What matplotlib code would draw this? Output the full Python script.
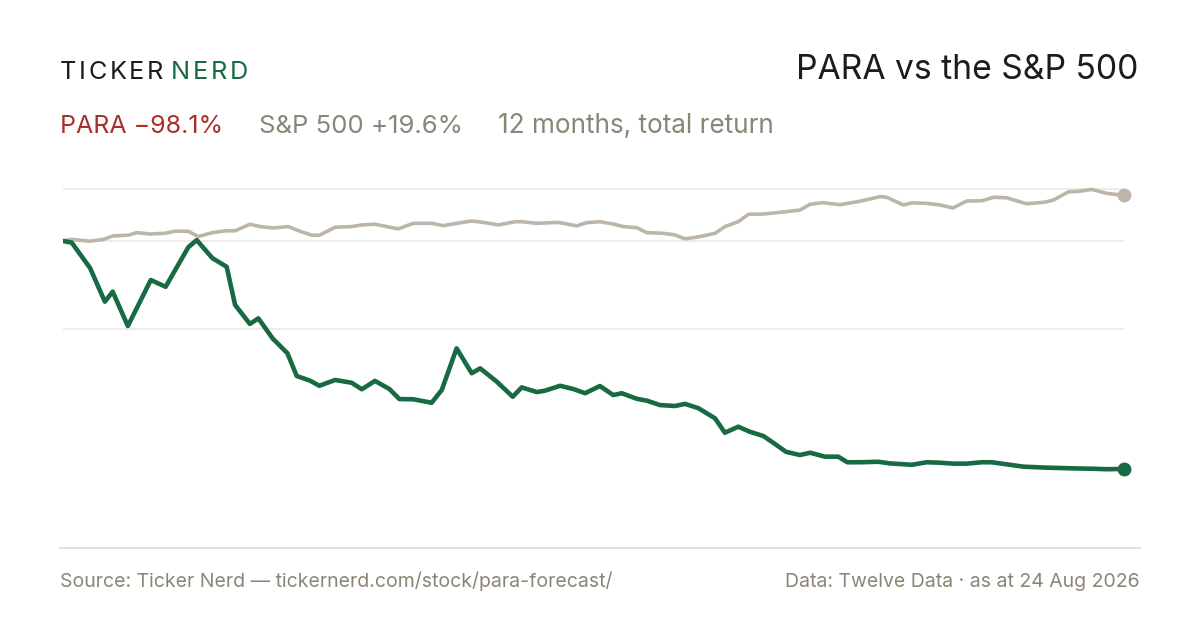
import matplotlib
matplotlib.use("Agg")
import matplotlib.pyplot as plt

# 12 months of total return, % (x = days since start)
para_days = [0, 3.0, 9.3, 14.4, 17.1, 22.3, 30.2, 35.3, 43.1, 46.0, 51.4, 56.3, 59.2, 64.3,
             67.2, 72.1, 77.2, 80.4, 85.0, 88.2, 93.6, 99.3, 102.8, 107.3, 112.3, 115.7,
             120.5, 126.8, 130.3, 135.4, 140.6, 143.5, 149.2, 154.7, 157.8, 163.0, 165.8,
             171.0, 175.6, 179.6, 184.7, 189.3, 192.2, 197.4, 200.8, 205.4, 210.5, 214.0,
             218.5, 224.3, 227.7, 232.3, 236.3, 240.9, 244.3, 248.7, 253.5, 257.0, 262.1,
             266.7, 269.8, 274.2, 280.5, 284.5, 292.0, 297.1, 301.7, 306.3, 310.9, 316.1,
             319.5, 324.6, 330.4, 337.8, 346.4, 354.4, 359.0, 365]
para_ret = [0, -0.7, -11.6, -26.1, -21.8, -36.6, -16.8, -19.7, -2.7, 0.4, -7.4, -11.1, -27.5,
            -35.7, -33.3, -41.9, -48.3, -58.1, -60.1, -62.3, -59.8, -61.0, -63.8, -60.2, -63.7,
            -68.0, -68.1, -69.6, -64.1, -46.2, -56.9, -54.8, -60.5, -67.0, -63.0, -65.0, -64.4,
            -62.3, -63.7, -65.5, -62.4, -66.3, -65.5, -67.9, -68.7, -70.6, -71.0, -70.1, -71.9,
            -76.3, -82.5, -79.9, -82.1, -83.9, -86.8, -90.7, -92.1, -91.1, -92.8, -92.8, -95.2,
            -95.2, -95.0, -95.7, -96.3, -95.2, -95.4, -95.8, -95.8, -95.2, -95.2, -96.1, -97.1,
            -97.5, -97.8, -98.0, -98.2, -98.1]

spx_days = [0, 3.0, 9.3, 13.9, 17.3, 22.5, 25.4, 29.9, 35.1, 38.5, 43.1, 46.5, 51.7, 56.3,
            59.2, 64.3, 67.8, 72.3, 77.5, 81.5, 85.6, 88.2, 93.6, 99.3, 102.8, 107.3, 115.3,
            120.5, 126.8, 130.8, 135.4, 140.6, 145.2, 149.8, 155.5, 157.8, 163.0, 170.4, 176.7,
            180.2, 184.7, 189.3, 192.7, 197.4, 200.8, 206.5, 210.5, 214.0, 219.1, 224.3, 227.7,
            232.3, 235.8, 240.9, 246.6, 253.5, 257.0, 261.5, 267.3, 274.2, 281.1, 283.4, 289.1,
            292.0, 297.1, 301.7, 306.1, 310.9, 316.1, 320.1, 324.6, 331.5, 337.8, 340.7, 345.8,
            350.4, 353.9, 359.0, 365]
spx_ret = [0, 0.7, -0.1, 0.7, 2.2, 2.5, 3.6, 3.0, 3.3, 4.2, 4.2, 1.9, 3.7, 4.4, 4.4, 7.2, 6.2,
           5.6, 6.2, 4.2, 2.5, 2.5, 5.9, 6.2, 6.9, 7.2, 5.2, 7.6, 7.6, 6.6, 7.6, 8.6, 7.9, 6.9,
           8.3, 8.3, 7.6, 8.0, 6.5, 7.9, 8.3, 7.3, 6.2, 5.7, 3.6, 3.3, 2.6, 0.9, 1.9, 3.3, 6.2,
           8.3, 11.5, 11.6, 12.3, 13.3, 15.8, 16.5, 15.6, 17.1, 19.1, 18.8, 15.5, 16.4, 16.2,
           15.5, 14.2, 17.2, 17.3, 18.8, 18.6, 16.0, 16.7, 17.6, 21.1, 21.5, 22.2, 20.5, 19.6]

grid_levels = [22.4, 0, -37.9]

GREEN = "#176a42"
SAND = "#bdb5a9"
RED = "#a8302a"
GREY_TXT = "#8b8576"
INK = "#1c1c1c"
FONT = ["Inter", "DejaVu Sans"]

plt.rcParams['font.family'] = FONT

fig = plt.figure(figsize=(12, 6.3), dpi=100)
fig.patch.set_facecolor("white")

ax = fig.add_axes([0.0525, 0.2375, 0.8842, 0.4759])
ax.set_xlim(0, 365)
ax.set_ylim(-103, 26)
ax.axis("off")

for g in grid_levels:
    ax.axhline(g, color="#ece9e3", lw=1.2, zorder=1)

ax.plot(spx_days, spx_ret, color=SAND, lw=2.6, zorder=3, solid_joinstyle="round")
ax.plot(spx_days[-1:], spx_ret[-1:], "o", color=SAND, ms=9, zorder=4, clip_on=False)
ax.plot(para_days, para_ret, color=GREEN, lw=3.3, zorder=5, solid_joinstyle="round")
ax.plot(para_days[-1:], para_ret[-1:], "o", color=GREEN, ms=9, zorder=6, clip_on=False)

# separator above the footer
fig.add_artist(plt.Line2D([60 / 1200, 1140 / 1200], [1 - 548 / 630] * 2,
                          color="#dedad1", lw=1.2))


def tracked(x, y, s, color, size, spacing):
    # letter-spaced text, placed one glyph at a time
    r = fig.canvas.get_renderer()
    for ch in s:
        t = fig.text(x, y, ch, color=color, fontsize=size, ha="left", va="baseline")
        w = t.get_window_extent(renderer=r).width / 1200
        x += w + spacing
    return x


xe = tracked(60 / 1200, 1 - 79 / 630, "TICKER", INK, 18.2, 0.0022)
tracked(xe + 0.004, 1 - 79 / 630, "NERD", GREEN, 18.2, 0.0022)

fig.text(1138 / 1200, 1 - 79 / 630, "PARA vs the S&P 500", color=INK, fontsize=24.2,
         ha="right", va="baseline")

sub_y = 1 - 133 / 630
fig.text(60 / 1200, sub_y, "PARA \u221298.1%", color=RED, fontsize=18, va="baseline")
fig.text(259 / 1200, sub_y, "S&P 500 +19.6%", color=GREY_TXT, fontsize=18.5, va="baseline")
fig.text(498 / 1200, sub_y, "12 months, total return", color=GREY_TXT, fontsize=18.8,
         va="baseline")

foot_y = 1 - 587 / 630
fig.text(60 / 1200, foot_y, "Source: Ticker Nerd \u2014 tickernerd.com/stock/para-forecast/",
         color=GREY_TXT, fontsize=14, va="baseline")
fig.text(1140 / 1200, foot_y, "Data: Twelve Data \u00b7 as at 24 Aug 2026",
         color=GREY_TXT, fontsize=14, ha="right", va="baseline")

fig.savefig("out.png", dpi=100, facecolor="white")
